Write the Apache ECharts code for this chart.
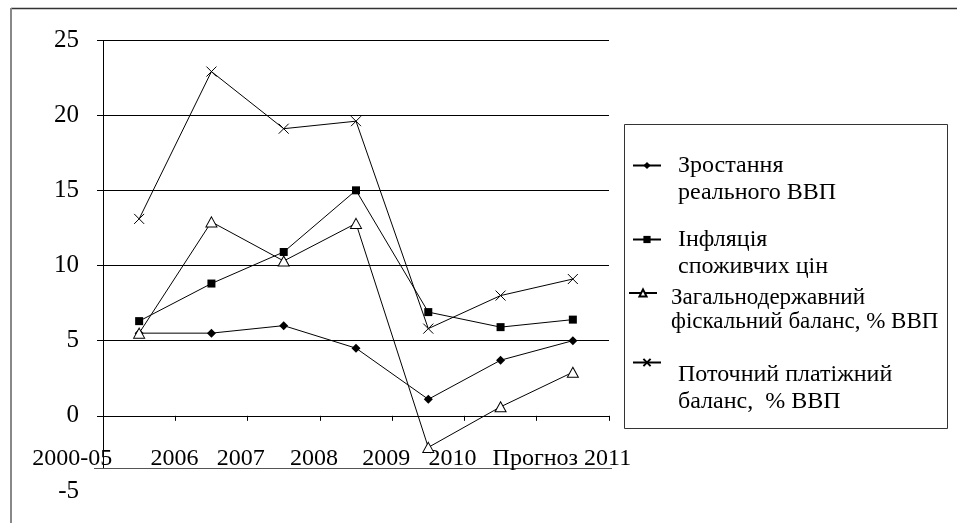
<!DOCTYPE html>
<html>
<head>
<meta charset="utf-8">
<script src="https://cdn.jsdelivr.net/npm/echarts@6/dist/echarts.min.js"></script>
<style>
  html, body { margin: 0; padding: 0; background: #fff; }
  #chart { width: 957px; height: 523px; }
</style>
</head>
<body>
<div id="chart"></div>
<script>
// Periods on the horizontal axis
const categories = ['2000-05', '2006', '2007', '2008', '2009', '2010', 'Прогноз 2011'];

// Indicator values, %
const realGdpGrowth     = [5.5, 5.5, 6.0, 4.5, 1.1, 3.7, 5.0];
const consumerInflation = [6.3, 8.8, 10.9, 15.0, 6.9, 5.9, 6.4];
const fiscalBalance     = [5.5, 12.9, 10.3, 12.8, -2.1, 0.6, 2.9];
const currentAccount    = [13.1, 22.9, 19.1, 19.6, 5.8, 8.0, 9.1];

// Value-axis tick labels
const yTicks = [-5, 0, 5, 10, 15, 20, 25];

// Series names (two-line legend entries)
const seriesNames = [
  'Зростання\nреального ВВП',
  'Інфляція\nспоживчих цін',
  'Загальнодержавний\nфіскальний баланс, % ВВП',
  'Поточний платіжний\nбаланс,  % ВВП'
];

// ---- presentation ----
const FONT = 'Liberation Serif';
const labelShift = [-67, -37, -43, -42, -42, -48, -11]; // horizontal nudge of each period label

const rich = {};
labelShift.forEach((s, i) => {
  rich['s' + i] = {
    fontFamily: FONT, fontSize: 24, color: '#000',
    padding: [0, -2 * s, 0, 0]
  };
});

const GRID = { left: 103, right: 348, top: 40, bottom: 32 };

// one legend block per series so each entry sits where it should;
// gap = height of the spacer line that puts the icon level with the first text line
const legendSpec = [
  { left: 632, top: 136.5, fontSize: 24, lh: 27, gap: 27, padLeft: 12 },
  { left: 632, top: 210.5, fontSize: 24, lh: 27, gap: 27, padLeft: 12 },
  { left: 628, top: 267, fontSize: 23, lh: 24, gap: 34, padLeft: 9 },
  { left: 632, top: 333.5, fontSize: 24, lh: 27, gap: 51, padLeft: 12 }
];
const legends = legendSpec.map((L, i) => ({
  orient: 'vertical',
  left: L.left,
  top: L.top,
  padding: 0,
  itemWidth: 28,
  itemHeight: 9,
  selectedMode: false,
  data: [seriesNames[i]],
  formatter: name => '{g| }\n' + name.split('\n').map(t => '{t|' + t + '}').join('\n'),
  textStyle: {
    fontFamily: FONT,
    fontSize: L.fontSize,
    color: '#000',
    padding: [0, 0, 0, L.padLeft],
    rich: {
      g: { fontFamily: FONT, fontSize: 4, lineHeight: L.gap },
      t: { fontFamily: FONT, fontSize: L.fontSize, lineHeight: L.lh, color: '#000' }
    }
  }
}));

const lineStyle = { color: '#000', width: 1 };

const option = {
  animation: false,
  backgroundColor: '#fff',
  textStyle: { fontFamily: FONT },
  grid: Object.assign({ containLabel: false, outerBoundsMode: 'none' }, GRID),
  legend: legends,
  xAxis: {
    type: 'category',
    data: categories,
    boundaryGap: true,
    axisLine: { onZero: true, lineStyle: { color: '#000', width: 1 } },
    axisTick: { show: true, inside: false, length: 5, lineStyle: { color: '#000' } },
    axisLabel: {
      interval: 0,
      hideOverlap: false,
      margin: -44,
      fontFamily: FONT,
      fontSize: 24,
      color: '#000',
      formatter: (v, i) => '{s' + i + '|' + v + '}',
      rich: rich
    },
    splitLine: { show: false }
  },
  yAxis: {
    type: 'value',
    min: yTicks[0],
    max: yTicks[yTicks.length - 1],
    interval: yTicks[1] - yTicks[0],
    axisLine: { show: false },
    axisTick: { show: true, length: 6, lineStyle: { color: '#000' }, customValues: yTicks.slice(1) },
    axisLabel: {
      margin: 24,
      fontFamily: FONT,
      fontSize: 25,
      color: '#000'
    },
    splitLine: { show: true, showMinLine: false, lineStyle: { color: '#000', width: 1 } }
  },
  series: [
    {
      name: seriesNames[0], type: 'line', data: realGdpGrowth,
      symbol: 'diamond', symbolSize: 9,
      itemStyle: { color: '#000' }, lineStyle: lineStyle
    },
    {
      name: seriesNames[1], type: 'line', data: consumerInflation,
      symbol: 'rect', symbolSize: 8,
      itemStyle: { color: '#000' }, lineStyle: lineStyle
    },
    {
      name: seriesNames[2], type: 'line', data: fiscalBalance,
      symbol: 'triangle', symbolSize: [11, 10],
      itemStyle: { color: '#fff', borderColor: '#000', borderWidth: 1 }, lineStyle: lineStyle
    },
    {
      name: seriesNames[3], type: 'line', data: currentAccount,
      symbol: 'path://M0,0L10,10M10,0L0,10', symbolSize: 10,
      itemStyle: { color: 'none', borderColor: '#000', borderWidth: 1 }, lineStyle: lineStyle
    }
  ],
  graphic: [
    // outer frame
    { type: 'line', shape: { x1: 11, y1: 8.5, x2: 957, y2: 8.5 }, style: { stroke: '#333', lineWidth: 1.5 }, silent: true },
    { type: 'line', shape: { x1: 11, y1: 8, x2: 11, y2: 523 }, style: { stroke: '#888', lineWidth: 2 }, silent: true },
    // plot frame: left side and lower edge
    { type: 'line', shape: { x1: 103.5, y1: 40, x2: 103.5, y2: 468 }, style: { stroke: '#000', lineWidth: 1 }, silent: true },
    { type: 'line', shape: { x1: 94, y1: 468.5, x2: 612, y2: 468.5 }, style: { stroke: '#555', lineWidth: 1 }, silent: true },
    // legend frame
    { type: 'rect', shape: { x: 624.5, y: 124.5, width: 323, height: 304 }, style: { fill: 'none', stroke: '#333', lineWidth: 1 }, silent: true }
  ]
};

const chart = echarts.init(document.getElementById('chart'), null, { renderer: 'canvas' });
chart.setOption(option);
</script>
</body>
</html>
